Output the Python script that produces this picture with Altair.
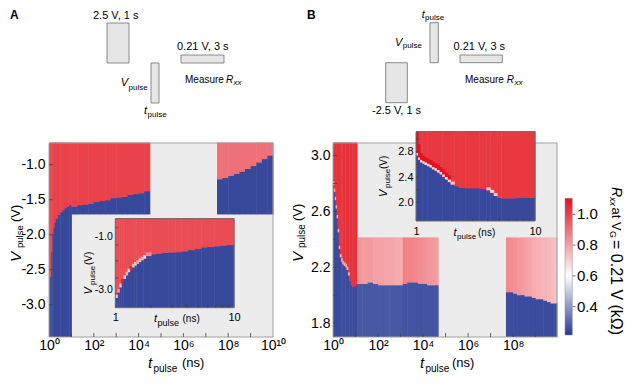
import altair as alt
import pandas as pd

OFF = 8            # page margin
W, H = 617, 368    # whole drawing area (svg)
FONT = "Liberation Sans"


def px(v):
    return v - OFF


# ---------------- data ----------------
# Panel A, main map: three measured blocks (column edges in ns, boundary Vpulse in V)
A1_t = [1, 1.12, 1.26, 1.41, 1.58, 1.78, 2.0, 2.5, 3.2, 4.0, 5.0, 6.3, 7.9, 10]
A1_vb = [-3.0, -2.6, -2.25, -2.0, -1.9, -1.83, -1.77, -1.72, -1.68, -1.65, -1.62, -1.6, -1.58]
A2_t = [10, 18, 32, 56, 100, 180, 320, 560, 1000, 1800, 3200, 5600, 10000, 17800, 31600]
A2_vb = [-1.6, -1.58, -1.57, -1.56, -1.53, -1.52, -1.51, -1.48, -1.47, -1.46, -1.43, -1.42, -1.41, -1.38]
A3_t = [3.16e7, 5.6e7, 1e8, 1.8e8, 3.2e8, 5.6e8, 1e9, 1.8e9, 3.2e9, 5.6e9, 1e10]
A3_vb = [-1.21, -1.19, -1.16, -1.13, -1.1, -1.06, -1.02, -0.97, -0.92, -0.87]
A_red, A3_red, A_blue = 1.0, 0.9, 0.245

# Panel A inset (1-10 ns)
Ai_t = [1.0, 1.04, 1.08, 1.12, 1.17, 1.22, 1.27, 1.32, 1.38, 1.44, 1.5, 1.57, 1.64, 1.72,
        1.8, 2.0, 2.2, 2.5, 2.8, 3.2, 3.6, 4.1, 4.7, 5.3, 6.0, 6.8, 7.7, 8.7, 10.0]
Ai_vb = [-3.3, -3.1, -2.9, -2.72, -2.58, -2.45, -2.33, -2.24, -2.15, -2.08, -2.02, -1.95, -1.88,
         -1.82, -1.72, -1.66, -1.63, -1.6, -1.59, -1.58, -1.55, -1.5, -1.45, -1.4, -1.38, -1.36,
         -1.33, -1.31]
Ai_tr = [0.72, 0.8, 0.7, 1.08, 0.72, 0.78, 0.7, 1.06, 0.74, 0.7, 0.82, 0.72, 0.76, 0.7, 0.85,
         0, 0, 0, 0, 0, 0, 0, 0, 0, 0, 0, 0, 0]
Ai_red, Ai_blue = 0.98, 0.245

# Panel B, main map
B1_t = [1.0, 1.1, 1.2, 1.3, 1.45, 1.6, 1.8, 2.0, 2.3, 2.6, 3.0, 3.5, 4.0, 4.6, 5.3, 6.2, 7.2, 8.5, 10.0, 11.7]
B1_vb = [2.79, 2.74, 2.68, 2.62, 2.55, 2.45, 2.33, 2.27, 2.24, 2.22, 2.21, 2.2, 2.18, 2.14, 2.1,
         2.07, 2.06, 2.06, 2.07]
B1_pk = [0.78, 0.78, 0.78, 0.78, 0.78, 0.78, 0.78, 0.78, 0.78, 0.78, 0.78, 0.78, 0.78, 0.78,
         0, 0, 0, 0, 0]
B2_t = [11.7, 20, 35, 60, 100, 180, 320, 560, 1260, 2000, 3500, 6000, 10000, 15000, 22000, 32000, 46800]
B2_vb = [2.08, 2.08, 2.09, 2.08, 2.07, 2.07, 2.07, 2.07, 2.08, 2.09, 2.09, 2.08, 2.08, 2.07, 2.07, 2.07]
B2_red = [0.82, 0.81, 0.81, 0.8, 0.8, 0.79, 0.79, 0.78, 0.87, 0.86, 0.85, 0.84, 0.83, 0.82, 0.82, 0.81]
B2_blue = [0.275, 0.275, 0.275, 0.275, 0.275, 0.275, 0.275, 0.275,
           0.265, 0.265, 0.265, 0.265, 0.265, 0.265, 0.265, 0.265]
B3_t = [4.8e7, 7e7, 1e8, 1.5e8, 2.2e8, 3.2e8, 4.6e8, 6.8e8, 1e9, 1.5e9, 2.2e9, 3.2e9, 4.6e9, 6.8e9, 8.9e9]
B3_vb = [2.02, 2.02, 2.01, 2.0, 2.0, 1.99, 1.99, 1.98, 1.97, 1.97, 1.96, 1.95, 1.94, 1.94]
B3_red = [0.85, 0.84, 0.83, 0.82, 0.81, 0.8, 0.79, 0.78, 0.77, 0.76, 0.76, 0.75, 0.74, 0.74]
B1_red, B_blue = 1.03, 0.25

# Panel B inset (1-10 ns)
Bi_t = [1.0, 1.04, 1.08, 1.13, 1.18, 1.24, 1.3, 1.36, 1.43, 1.5, 1.58, 1.66, 1.75, 1.85, 1.95,
        2.1, 2.3, 2.6, 3.0, 3.4, 3.9, 4.2, 4.5, 4.8, 5.2, 6.0, 7.0, 8.2, 10.0]
Bi_vb = [2.74, 2.67, 2.63, 2.61, 2.59, 2.57, 2.55, 2.52, 2.5, 2.47, 2.44, 2.4, 2.36, 2.32, 2.28,
         2.25, 2.23, 2.22, 2.22, 2.21, 2.19, 2.15, 2.1, 2.07, 2.06, 2.06, 2.07, 2.07]
Bi_pk = [0.7, 0.72, 0.68, 0.7, 0.66, 0.7, 0.68, 0.72, 0.7, 0.68, 0.7, 0.72, 0.68, 0.7, 0.72,
         0, 0, 0, 0, 0, 0.7, 0.68, 0.72, 0, 0, 0, 0, 0]
Bi_br = [0.38, 0.2, 0.1, 0.08, 0.07, 0.07, 0.07, 0.07, 0.07, 0.07, 0.07, 0.07, 0.06, 0.06,
         0, 0, 0, 0, 0, 0, 0, 0, 0, 0, 0, 0, 0, 0]
Bi_red, Bi_blue = 1.02, 0.245

# axis ticks / labels
A_XLAB = [1, 1e2, 1e4, 1e6, 1e8, 1e10]
B_XLAB = [1, 1e2, 1e4, 1e6, 1e8]
DECADES = [1e1, 1e2, 1e3, 1e4, 1e5, 1e6, 1e7, 1e8, 1e9]
A_YLAB = [-3.0, -2.5, -2.0, -1.5, -1.0]
B_YLAB = [1.8, 2.2, 2.6, 3.0]
B_YTK = [1.8, 2.0, 2.2, 2.4, 2.6, 2.8, 3.0]
IN_XLAB = [1, 10]
IN_XTK = [2, 3, 4, 5, 6, 7, 8, 9]
Ai_YLAB = [-1.0, -3.0]
Ai_YTK = [-0.65, -1.3, -1.9, -2.55, -3.15]
Bi_YLAB = [2.0, 2.4, 2.8]
Bi_YTK = [2.0, 2.2, 2.4, 2.6, 2.8, 3.0]
CB_TICKS = [0.4, 0.6, 0.8, 1.0]
C_LO, C_MID, C_HI = 0.216, 0.6, 1.104

# ---------------- helpers ----------------
COLOR = alt.Color(
    "r:Q",
    scale=alt.Scale(domain=[C_LO, C_MID, C_HI], range=["#283a93", "#ffffff", "#e3111b"],
                    interpolate="rgb"),
    legend=alt.Legend(orient="none", legendX=px(565), legendY=px(198.3), direction="vertical",
                      gradientLength=136.7, gradientThickness=7.3, title=None, values=CB_TICKS,
                      format=".1f", labelFont=FONT, labelFontSize=15, labelColor="#000",
                      labelOffset=4.7, gradientStrokeColor="#8a8a8a", gradientStrokeWidth=0.5,
                      padding=0, labelOverlap=False),
)


def pick(a, i):
    return a[i] if isinstance(a, (list, tuple)) else a


def cells(t, vb, lo, hi, red, blue, bands=()):
    rows, extra = [], []
    for i in range(len(vb)):
        rows.append(dict(t0=t[i], t1=t[i + 1], v0=lo, v1=vb[i], r=pick(blue, i)))
        rows.append(dict(t0=t[i], t1=t[i + 1], v0=vb[i], v1=hi, r=pick(red, i)))
        base = vb[i]
        for vals, thick in bands:
            val, th = pick(vals, i), pick(thick, i)
            if val and th:
                extra.append(dict(t0=t[i], t1=t[i + 1], v0=base, v1=min(base + th, hi), r=val))
                base += th
    return rows + extra


LOG_EXPR = ("datum.value < 5 ? '10⁰' : datum.value < 500 ? '10²' : datum.value < 50000 ? '10⁴'"
            " : datum.value < 5000000 ? '10⁶' : datum.value < 500000000 ? '10⁸' : '10¹⁰'")
HYPHEN_EXPR = "replace(format(datum.value, '.1f'), '−', '-')"


def axis(orient, off, values, expr, size, pad, fmt=None):
    kw = dict(orient=orient, offset=off, values=values, labelFontSize=size, labelFont=FONT,
              labelColor="#000", labelPadding=pad, ticks=False, domain=False, grid=False,
              labelFlush=False, labelOverlap=False, title=None, zindex=2)
    if expr:
        kw["labelExpr"] = expr
    if fmt:
        kw["format"] = fmt
    return alt.Axis(**kw)


def panel(rows, xdom, xr, ydom, yr, xax, yax, xt, yt, tl, bg, border):
    xs = alt.Scale(type="log", domain=xdom, range=[px(xr[0]), px(xr[1])], nice=False)
    ys = alt.Scale(type="linear", domain=ydom, range=[px(yr[0]), px(yr[1])], nice=False, zero=False)
    X = alt.X("t0:Q", scale=xs, axis=xax)
    Y = alt.Y("v0:Q", scale=ys, axis=yax)
    frame = pd.DataFrame({"t0": [xdom[0]], "t1": [xdom[1]], "v0": [ydom[0]], "v1": [ydom[1]]})
    layers = []
    if bg:
        layers.append(alt.Chart(frame).mark_rect(color=bg).encode(x=X, x2="t1:Q", y=Y, y2="v1:Q"))
    layers.append(alt.Chart(pd.DataFrame(rows)).mark_rect(x2Offset=0.5, y2Offset=-0.5)
                  .encode(x=X, x2="t1:Q", y=Y, y2="v1:Q", color=COLOR))
    layers.append(alt.Chart(frame).mark_rect(fillOpacity=0, stroke=border, strokeWidth=1)
                  .encode(x=X, x2="t1:Q", y=Y, y2="v1:Q"))
    layers.append(alt.Chart(pd.DataFrame({"t0": xt})).mark_rule(color="#444", strokeWidth=0.8)
                  .encode(x=X, y=alt.value(px(yr[0])), y2=alt.value(px(yr[0]) - tl)))
    layers.append(alt.Chart(pd.DataFrame({"v0": yt})).mark_rule(color="#444", strokeWidth=0.8)
                  .encode(y=Y, x=alt.value(px(xr[0])), x2=alt.value(px(xr[0]) + tl)))
    return alt.layer(*layers)


# ---------------- plots ----------------
A_rows = (cells(A1_t, A1_vb, -3.46, -0.69, A_red, A_blue)
          + cells(A2_t, A2_vb, -1.71, -0.69, A_red, A_blue)
          + cells(A3_t, A3_vb, -1.71, -0.69, A3_red, A_blue))
mainA = panel(A_rows, [1, 1e10], (49, 273), [-3.46, -0.69], (337, 143),
              axis("bottom", px(337) - H, A_XLAB, LOG_EXPR, 14, 1),
              axis("left", -px(49), A_YLAB, HYPHEN_EXPR, 14, 4),
              DECADES, A_YLAB, 4, "#ececec", "#a0a0a0")

B_rows = (cells(B1_t, B1_vb, 1.70, 3.09, B1_red, B_blue, bands=[(B1_pk, 0.02)])
          + cells(B2_t, B2_vb, 1.70, 2.41, B2_red, B2_blue)
          + cells(B3_t, B3_vb, 1.70, 2.41, B3_red, B_blue))
mainB = panel(B_rows, [1, 8.9e9], (333, 557), [1.70, 3.09], (337, 143),
              axis("bottom", px(337) - H, B_XLAB, LOG_EXPR, 14, 1),
              axis("left", -px(333), B_YLAB, None, 14, 3, ".1f"),
              DECADES, B_YTK, 4, "#ececec", "#a0a0a0")

Ai_rows = cells(Ai_t, Ai_vb, -3.67, -0.31, Ai_red, Ai_blue, bands=[(Ai_tr, 0.12)])
insetA = panel(Ai_rows, [1, 10], (115.3, 234), [-3.67, -0.31], (307.7, 218.7),
               axis("bottom", px(307.7) - H, IN_XLAB, "datum.value < 5 ? '1' : '10'", 11, 4),
               axis("left", -px(115.3), Ai_YLAB, HYPHEN_EXPR, 10.5, 3),
               IN_XTK, Ai_YTK, 3, None, "#6a6a6a")

Bi_rows = cells(Bi_t, Bi_vb, 1.705, 3.116, Bi_red, Bi_blue, bands=[(Bi_pk, 0.04), (1.1, Bi_br)])
insetB = panel(Bi_rows, [1, 10], (416, 535), [1.705, 3.116], (221, 131.7),
               axis("bottom", px(221) - H, IN_XLAB, "datum.value < 5 ? '1' : '10'", 11, 4),
               axis("left", -px(416), Bi_YLAB, None, 11, 3, ".1f"),
               IN_XTK, Bi_YTK, 3, None, "#6a6a6a")

cb_ticks = alt.Chart(pd.DataFrame({"c": CB_TICKS})).mark_rule(color="#444", strokeWidth=0.8).encode(
    y=alt.Y("c:Q", scale=alt.Scale(domain=[C_LO, C_HI], range=[px(335), px(198.3)], zero=False),
            axis=None),
    x=alt.value(px(572.3)), x2=alt.value(px(575.5)))

# ---------------- pulse schematics (decoration) ----------------
SCHEM = [(107, 129, 23, 63), (151, 159, 63, 103), (181, 224, 55, 63),
         (385.7, 407.3, 62.7, 102.7), (430, 438.3, 22.7, 62.7), (460, 502.3, 55, 62.7)]
sch_df = pd.DataFrame(SCHEM, columns=["x0", "x1", "y0", "y1"]) - OFF
schem = alt.Chart(sch_df).mark_rect(color="#e6e6e6", stroke="#6e6e6e", strokeWidth=0.8).encode(
    x=alt.X("x0:Q", scale=None, axis=None), x2="x1:Q",
    y=alt.Y("y0:Q", scale=None, axis=None), y2="y1:Q")

# ---------------- text pieces (txt, x, y, size, angle) ----------------
NORMAL = [
    ("2.5 V, 1 s", 93, 16, 11, 0), ("0.21 V, 3 s", 177, 47, 11, 0), ("Measure", 185, 79.5, 10, 0),
    ("-2.5 V, 1 s", 372, 110.5, 11, 0), ("0.21 V, 3 s", 453.5, 47, 11, 0), ("Measure", 465, 79.5, 10, 0),
    ("pulse", 128.5, 87.5, 8, 0), ("pulse", 147.5, 115, 8, 0),
    ("pulse", 425, 17.5, 8, 0), ("pulse", 402.7, 45.5, 8, 0),
    ("pulse", 153.5, 368.5, 10, 0), ("(ns)", 182, 362.5, 13, 0),
    ("pulse", 425.5, 368.5, 10, 0), ("(ns)", 452, 362.5, 13, 0),
    ("pulse", 19.5, 248, 9.5, 270), ("(V)", 15.5, 222, 13, 270),
    ("pulse", 302, 248, 10, 270), ("(V)", 298, 221, 13, 270),
    ("pulse", 157.5, 322.5, 9, 0), ("(ns)", 182.5, 319, 10, 0),
    ("pulse", 457, 236.5, 8, 0), ("(ns)", 478, 232.5, 10, 0),
    ("pulse", 93, 285, 8, 270), ("(V)", 89, 265, 10, 270),
    ("pulse", 388, 188, 8, 270), ("(V)", 383.5, 169, 10, 270),
    ("at V", 615.5, 207.5, 13, 90), ("G", 612.5, 231, 9, 90), ("= 0.21 V (kΩ)", 615.5, 240, 16, 90),
]
ITALIC = [
    ("R", 226, 79.5, 10, 0), ("xx", 233.5, 83, 8, 0), ("R", 506.7, 79.5, 10, 0), ("xx", 514.5, 83, 8, 0),
    ("V", 120.7, 82.5, 11, 0), ("t", 144, 111, 11, 0), ("V", 395, 43, 11, 0), ("t", 421.7, 14.5, 11, 0),
    ("t", 148, 362.5, 15, 0), ("t", 420, 362.5, 15, 0),
    ("V", 15.5, 262, 15, 270), ("V", 298, 262, 15, 270),
    ("t", 154, 318.5, 11, 0), ("t", 453.5, 232.5, 11, 0),
    ("V", 89, 294.5, 11, 270), ("V", 383.5, 197, 11, 270),
    ("R", 615.5, 187, 14, 90), ("xx", 612.5, 197, 9, 90),
]
BOLD = [("A", 10, 14.5, 12, 0), ("B", 307, 15, 12, 0)]


def text_layer(rows, **style):
    df = pd.DataFrame(rows, columns=["txt", "x", "y", "size", "angle"])
    df["x"] = df["x"] - OFF
    df["y"] = df["y"] - OFF
    return alt.Chart(df).mark_text(align="left", baseline="middle", font=FONT, color="#000",
                                   **style).encode(
        x=alt.X("x:Q", scale=None, axis=None), y=alt.Y("y:Q", scale=None, axis=None),
        text="txt:N", size=alt.Size("size:Q", scale=None, legend=None),
        angle=alt.Angle("angle:Q", scale=None))


chart = (
    alt.layer(schem, mainA, mainB, insetA, insetB, cb_ticks,
              text_layer(NORMAL), text_layer(ITALIC, fontStyle="italic"),
              text_layer(BOLD, fontWeight="bold"))
    .resolve_scale(x="independent", y="independent")
    .resolve_axis(x="independent", y="independent")
    .properties(width=W, height=H, padding=0, autosize=alt.AutoSizeParams(type="none"),
                background="white")
    .configure_view(strokeWidth=0)
)

chart.save("out.html", embed_options={"renderer": "svg", "actions": False})
